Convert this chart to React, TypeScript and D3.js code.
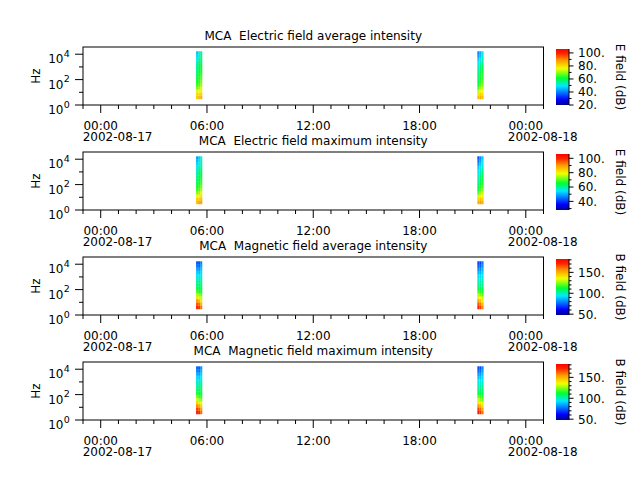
import React, { useEffect, useRef } from "react";
import * as d3 from "d3";

// frequency channel edges (Hz), low to high
const freqEdges = [3, 5.6, 10, 18, 32, 56, 100, 180, 320, 560, 1000, 1800, 3200, 5600, 10000, 17000];

// time bin edges of the two passes
const passEdges = [
  ["2002-08-17T05:23", "2002-08-17T05:30", "2002-08-17T05:37", "2002-08-17T05:44"],
  ["2002-08-17T21:16", "2002-08-17T21:23", "2002-08-17T21:30", "2002-08-17T21:37"],
];

// spectra in dB, one row per time bin, channels low -> high
const eAvgPass1 = [
  [82, 80, 74, 68, 64, 62, 60, 58, 57, 56, 54, 52, 50, 48, 46],
  [84, 80, 76, 70, 66, 64, 63, 62, 60, 60, 58, 56, 54, 52, 50],
  [86, 82, 78, 74, 70, 68, 66, 64, 62, 62, 60, 58, 57, 56, 55],
];
const eAvgPass2 = [
  [84, 80, 72, 66, 62, 60, 58, 58, 56, 54, 52, 50, 46, 42, 40],
  [86, 82, 76, 70, 66, 64, 62, 62, 60, 58, 56, 52, 50, 46, 44],
  [84, 80, 76, 72, 68, 66, 64, 64, 62, 60, 58, 56, 54, 52, 50],
];
const eMaxPass1 = [
  [86, 84, 78, 72, 68, 66, 64, 62, 60, 59, 57, 55, 53, 51, 49],
  [88, 84, 80, 74, 70, 68, 66, 65, 63, 62, 60, 58, 56, 54, 52],
  [90, 86, 82, 78, 74, 71, 69, 67, 65, 64, 62, 60, 59, 58, 57],
];
const eMaxPass2 = [
  [88, 84, 76, 70, 66, 63, 61, 60, 58, 56, 54, 52, 48, 45, 42],
  [90, 86, 80, 74, 70, 67, 65, 64, 62, 60, 58, 55, 52, 49, 47],
  [88, 84, 80, 76, 72, 69, 67, 66, 64, 62, 60, 58, 56, 54, 52],
];
const bAvgPass1 = [
  [172, 165, 155, 140, 128, 118, 110, 106, 102, 98, 94, 90, 84, 78, 74],
  [170, 162, 150, 138, 126, 116, 110, 106, 102, 98, 94, 88, 82, 76, 72],
  [160, 150, 140, 130, 122, 114, 110, 106, 104, 100, 96, 92, 88, 84, 80],
];
const bAvgPass2 = [
  [174, 166, 154, 140, 128, 118, 110, 104, 100, 96, 92, 86, 80, 74, 70],
  [168, 160, 148, 136, 124, 116, 108, 104, 100, 96, 92, 86, 80, 74, 70],
  [158, 150, 140, 130, 120, 114, 108, 104, 102, 98, 94, 90, 86, 82, 78],
];
const bMaxPass1 = [
  [174, 168, 158, 144, 132, 122, 114, 108, 104, 100, 96, 92, 86, 80, 76],
  [172, 164, 152, 140, 128, 118, 112, 108, 104, 100, 96, 90, 84, 78, 74],
  [162, 154, 144, 134, 124, 116, 112, 108, 106, 102, 98, 94, 90, 86, 82],
];
const bMaxPass2 = [
  [176, 168, 156, 142, 130, 120, 112, 106, 102, 98, 94, 88, 82, 76, 72],
  [170, 162, 150, 138, 126, 118, 110, 106, 102, 98, 94, 88, 82, 76, 72],
  [160, 152, 142, 132, 122, 116, 110, 106, 104, 100, 96, 92, 88, 84, 80],
];

const titles = [
  "MCA  Electric field average intensity",
  "MCA  Electric field maximum intensity",
  "MCA  Magnetic field average intensity",
  "MCA  Magnetic field maximum intensity",
];
const cbarLabels = ["E field (dB)", "E field (dB)", "B field (dB)", "B field (dB)"];
const cbarRanges = [[20, 106], [28, 106], [48, 182], [48, 182]];
const cbarMajor = [[20, 40, 60, 80, 100], [40, 60, 80, 100], [50, 100, 150], [50, 100, 150]];
const cbarMinor = [
  [30, 50, 70, 90],
  [30, 50, 70, 90],
  [60, 70, 80, 90, 110, 120, 130, 140, 160, 170, 180],
  [60, 70, 80, 90, 110, 120, 130, 140, 160, 170, 180],
];
const panelData = [
  [eAvgPass1, eAvgPass2],
  [eMaxPass1, eMaxPass2],
  [bAvgPass1, bAvgPass2],
  [bMaxPass1, bMaxPass2],
];

// rainbow colour table
const cmapStops = [0, 0.1, 0.34, 0.48, 0.65, 0.8, 0.92, 1];
const cmapColors = ["#000088", "#0000ff", "#00e8ff", "#00ff30", "#f4ff00", "#ff9800", "#ff2400", "#ff0000"];

const App: React.FC = () => {
  const svgRef = useRef(null);

  useEffect(() => {
    const width = 640;
    const height = 480;
    const left = 83;
    const right = 543.5;
    const firstTop = 47;
    const pitch = 105;
    const ph = 58;
    const cbX = 556;
    const cbW = 13;

    const svg = d3
      .select(svgRef.current)
      .attr("width", width)
      .attr("height", height)
      .style("font-family", "'DejaVu Sans', sans-serif")
      .style("font-size", "12px");

    svg.append("rect").attr("width", width).attr("height", height).attr("fill", "white");

    const cmap = d3
      .scaleLinear<string>()
      .domain(cmapStops)
      .range(cmapColors)
      .interpolate(d3.interpolateRgb)
      .clamp(true);

    const defs = svg.append("defs");
    const grad = defs
      .append("linearGradient")
      .attr("id", "cmap")
      .attr("x1", 0)
      .attr("y1", 1)
      .attr("x2", 0)
      .attr("y2", 0);
    d3.range(0, 1.0001, 0.02).forEach((t) => {
      grad.append("stop").attr("offset", t).attr("stop-color", cmap(t));
    });

    const x = d3
      .scaleTime()
      .domain([new Date(2002, 7, 16, 23), new Date(2002, 7, 18, 1)])
      .range([left, right]);
    const majorX = x.ticks(d3.timeHour.every(6) as any);
    const minorX = x
      .ticks(d3.timeHour.every(1) as any)
      .filter((d) => d.getHours() % 6 !== 0);
    const parseT = d3.timeParse("%Y-%m-%dT%H:%M");
    const fmtTime = d3.timeFormat("%H:%M");
    const fmtDate = d3.timeFormat("%Y-%m-%d");

    titles.forEach((title, i) => {
      const top = firstTop + i * pitch;
      const bottom = top + ph;
      const y = d3.scaleLog().domain([1, 37000]).range([bottom, top]);
      const g = svg.append("g");

      // spectrogram cells
      const norm = d3.scaleLinear().domain(cbarRanges[i]).range([0, 1]);
      panelData[i].forEach((pass, p) => {
        const edges = passEdges[p].map((s) => parseT(s) as Date);
        pass.forEach((spec, j) => {
          const x0 = x(edges[j]);
          const x1 = x(edges[j + 1]);
          spec.forEach((v, k) => {
            const y1 = y(freqEdges[k]);
            const y0 = y(freqEdges[k + 1]);
            g.append("rect")
              .attr("x", x0)
              .attr("y", y0)
              .attr("width", x1 - x0)
              .attr("height", y1 - y0 + 0.3)
              .attr("fill", cmap(norm(v)));
          });
        });
      });

      // frame
      g.append("rect")
        .attr("x", left)
        .attr("y", top)
        .attr("width", right - left)
        .attr("height", ph)
        .attr("fill", "none")
        .attr("stroke", "black")
        .attr("stroke-width", 1);

      // x ticks
      majorX.forEach((d) => {
        g.append("line")
          .attr("x1", x(d)).attr("x2", x(d))
          .attr("y1", bottom).attr("y2", bottom + 8)
          .attr("stroke", "black");
        g.append("text")
          .attr("x", x(d))
          .attr("y", bottom + 24.5)
          .attr("text-anchor", "middle")
          .text(fmtTime(d));
        if (d.getHours() === 0) {
          g.append("text")
            .attr("x", x(d) - 18)
            .attr("y", bottom + 36)
            .text(fmtDate(d));
        }
      });
      minorX.forEach((d) => {
        g.append("line")
          .attr("x1", x(d)).attr("x2", x(d))
          .attr("y1", bottom).attr("y2", bottom + 4)
          .attr("stroke", "black");
      });

      // y ticks (log)
      [0, 2, 4].forEach((e) => {
        const yy = y(Math.pow(10, e));
        g.append("line")
          .attr("x1", left - 8).attr("x2", left)
          .attr("y1", yy).attr("y2", yy)
          .attr("stroke", "black");
        g.append("text")
          .attr("x", 63.5)
          .attr("y", yy + 9)
          .attr("text-anchor", "end")
          .text("10");
        g.append("text")
          .attr("x", 63.8)
          .attr("y", yy + 2.5)
          .style("font-size", "9.5px")
          .text(String(e));
      });
      [1, 3].forEach((e) => {
        const yy = y(Math.pow(10, e));
        g.append("line")
          .attr("x1", left - 4).attr("x2", left)
          .attr("y1", yy).attr("y2", yy)
          .attr("stroke", "black");
      });
      g.append("text")
        .attr("transform", `translate(39.5,${(top + bottom) / 2}) rotate(-90)`)
        .attr("text-anchor", "middle")
        .text("Hz");

      // title (keeps the double space)
      g.append("text")
        .attr("x", (left + right) / 2)
        .attr("y", top - 7.5)
        .attr("text-anchor", "middle")
        .style("white-space", "pre")
        .attr("xml:space", "preserve")
        .text(title);

      // colorbar
      const cbTop = top + 2;
      const cb = d3.scaleLinear().domain(cbarRanges[i]).range([bottom, cbTop]);
      g.append("rect")
        .attr("x", cbX)
        .attr("y", cbTop)
        .attr("width", cbW)
        .attr("height", bottom - cbTop)
        .attr("fill", "url(#cmap)");
      g.append("line")
        .attr("x1", cbX + cbW).attr("x2", cbX + cbW)
        .attr("y1", cbTop).attr("y2", bottom)
        .attr("stroke", "black");
      cbarMajor[i].forEach((v) => {
        g.append("line")
          .attr("x1", cbX + cbW).attr("x2", cbX + cbW + 4.5)
          .attr("y1", cb(v)).attr("y2", cb(v))
          .attr("stroke", "black");
        g.append("text")
          .attr("x", cbX + cbW + 9)
          .attr("y", cb(v) + 4.4)
          .text(`${v}.`);
      });
      cbarMinor[i].forEach((v) => {
        if (v < cbarRanges[i][0] || v > cbarRanges[i][1]) return;
        g.append("line")
          .attr("x1", cbX + cbW).attr("x2", cbX + cbW + 2.5)
          .attr("y1", cb(v)).attr("y2", cb(v))
          .attr("stroke", "black");
      });
      g.append("text")
        .attr("transform", `translate(616,${(cbTop + bottom) / 2}) rotate(90)`)
        .attr("text-anchor", "middle")
        .text(cbarLabels[i]);
    });

    return () => {
      svg.selectAll("*").remove();
    };
  }, []);

  return (
    <svg
      ref={svgRef}
      style={{ position: "absolute", left: 0, top: 0 }}
      width={640}
      height={480}
    />
  );
};

export default App;
